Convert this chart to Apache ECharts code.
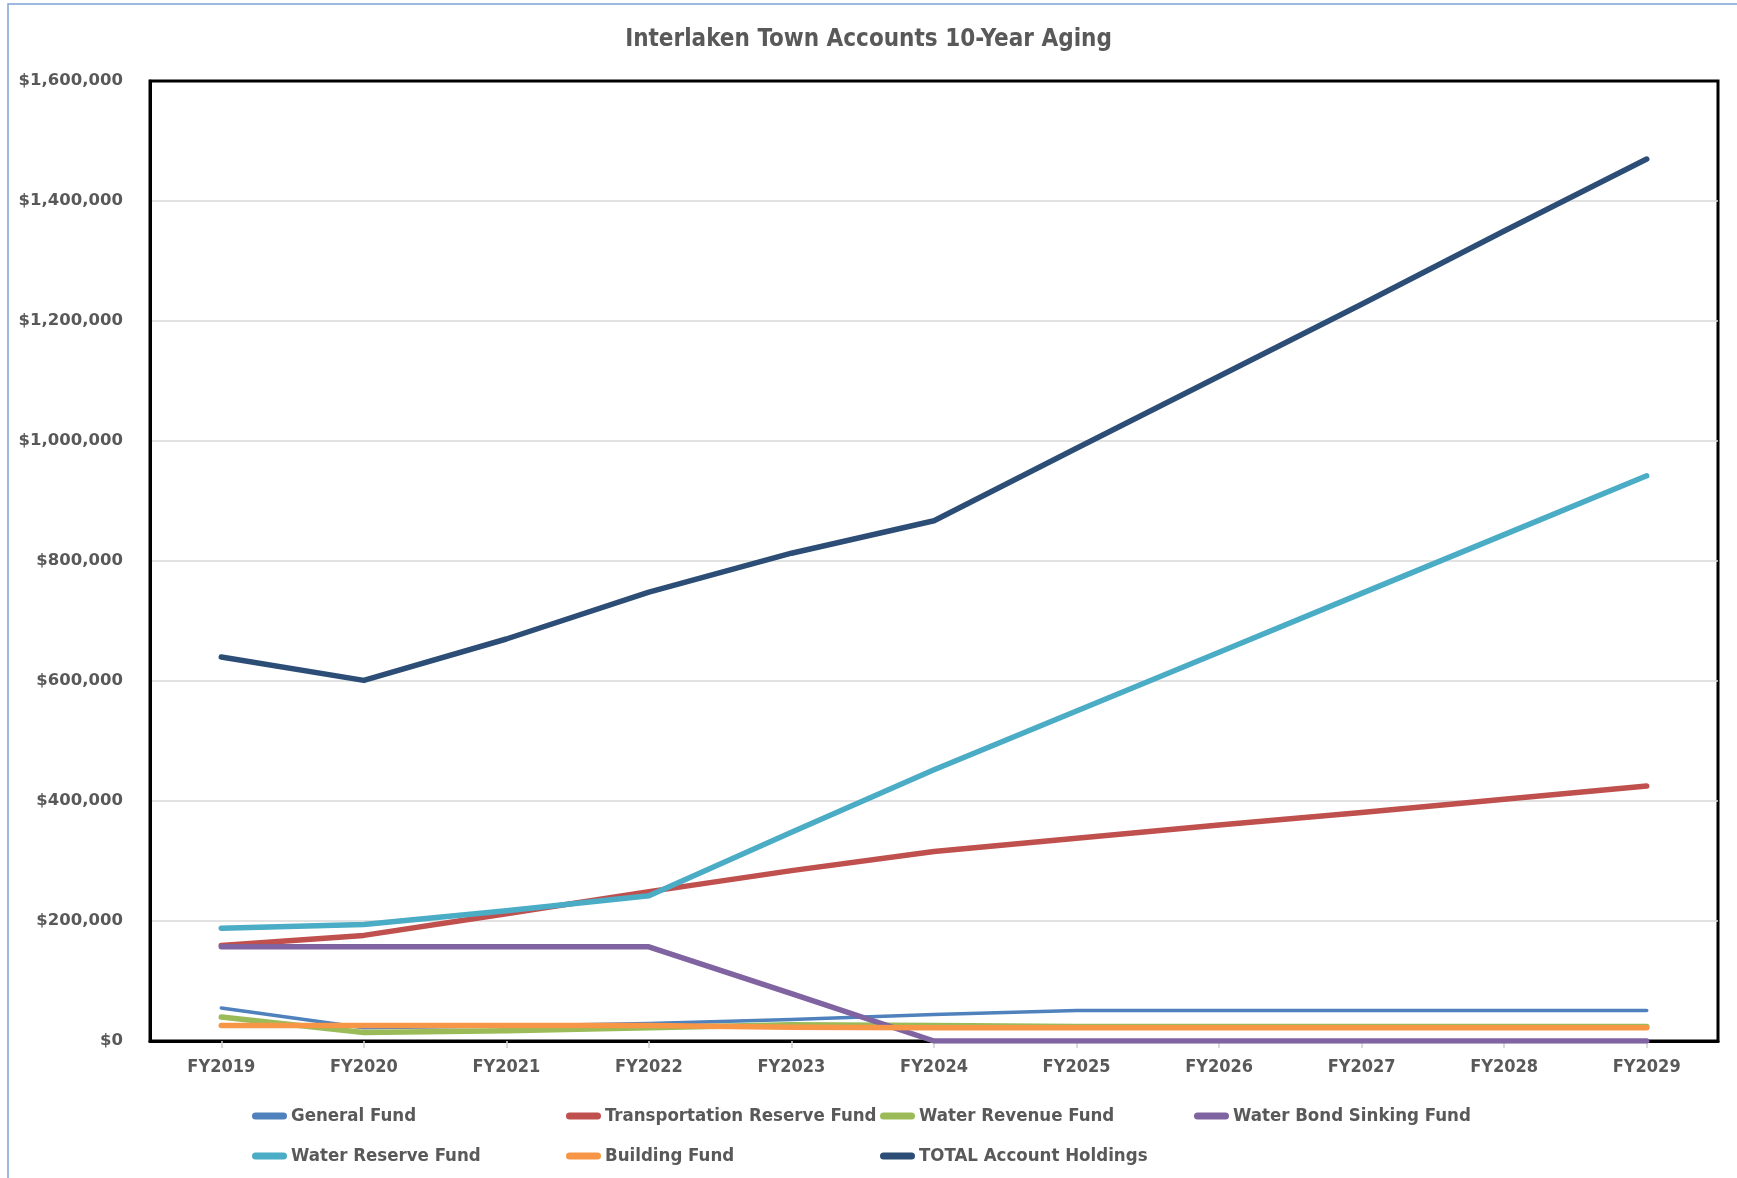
<!DOCTYPE html>
<html>
<head>
<meta charset="utf-8">
<script src="https://cdn.jsdelivr.net/npm/echarts@6/dist/echarts.min.js"></script>
<style>
  html, body { margin: 0; padding: 0; background: #fff; }
</style>
</head>
<body>
<div id="myEchart" style="width:1737px; height:1178px;"></div>
<script>
// categories / values
var years = ['FY2019', 'FY2020', 'FY2021', 'FY2022', 'FY2023', 'FY2024', 'FY2025', 'FY2026', 'FY2027', 'FY2028', 'FY2029'];
var yTicks = [0, 200000, 400000, 600000, 800000, 1000000, 1200000, 1400000, 1600000];

var generalFund = [55000, 22000, 25000, 29000, 36000, 44000, 51000, 51000, 51000, 51000, 51000];
var transportationReserve = [159000, 176000, 212000, 249000, 284000, 316000, 338000, 360000, 381000, 403000, 425000];
var waterRevenue = [40000, 14000, 17000, 22000, 27000, 26000, 24000, 24000, 24000, 24000, 24000];
var waterBondSinking = [157000, 157000, 157000, 157000, 79000, 0, 0, 0, 0, 0, 0];
var waterReserve = [188000, 194000, 217000, 242000, 348000, 452000, 550000, 648000, 746000, 844000, 942000];
var buildingFund = [26000, 26000, 26000, 26000, 23000, 22000, 22000, 22000, 22000, 22000, 22000];
var totalHoldings = [640000, 601000, 670000, 748000, 813000, 867000, 988000, 1108000, 1228000, 1350000, 1470000];

var seriesNames = ['General Fund', 'Transportation Reserve Fund', 'Water Revenue Fund', 'Water Bond Sinking Fund', 'Water Reserve Fund', 'Building Fund', 'TOTAL Account Holdings'];
var seriesData = [generalFund, transportationReserve, waterRevenue, waterBondSinking, waterReserve, buildingFund, totalHoldings];
var seriesColors = ['#4f81bd', '#c0504d', '#9bbb59', '#8064a2', '#4bacc6', '#f79646', '#2c4d75'];
var lineWidths = [3.5, 5.5, 5.5, 5.5, 5.5, 5.5, 5.5];

var narrow = "'Liberation Sans Narrow', 'DejaVu Sans Condensed', 'Liberation Sans', sans-serif";

var myChart = echarts.init(document.getElementById('myEchart'));

var series = seriesNames.map(function (name, i) {
  return {
    name: name,
    type: 'line',
    data: seriesData[i],
    symbol: 'none',
    color: seriesColors[i],
    lineStyle: { width: lineWidths[i], color: seriesColors[i], cap: 'round', join: 'round' },
    animation: false
  };
});

myChart.setOption({
  backgroundColor: '#fff',
  title: {
    text: 'Interlaken Town Accounts 10-Year Aging',
    left: 'center',
    top: 23,
    textStyle: { fontFamily: narrow, fontWeight: 'bold', fontSize: 24, color: '#595959' }
  },
  // thin blue outer frame of the chart object
  graphic: [{
    type: 'rect',
    shape: { x: 8, y: 4, width: 1760, height: 1200 },
    style: { fill: 'none', stroke: '#7ea3d6', lineWidth: 1.5 },
    silent: true
  }],
  legend: {
    data: seriesNames,
    left: 247,
    top: 1091,
    width: 1280,
    itemGap: 0,
    itemWidth: 39,
    itemHeight: 7,
    icon: 'path://M4,0 L36,0 A4,4 0 0 1 36,8 L4,8 A4,4 0 0 1 4,0 Z',
    textStyle: {
      fontFamily: narrow, fontWeight: 'bold', fontSize: 18.5, color: '#595959',
      width: 275, lineHeight: 40, padding: [0, 0, 0, -3]
    }
  },
  grid: {
    left: 150, right: 19, top: 81, bottom: 137,
    show: true, borderColor: '#000', borderWidth: 3, backgroundColor: '#fff'
  },
  xAxis: {
    type: 'category',
    data: years,
    boundaryGap: true,
    axisLine: { show: true, lineStyle: { color: '#000', width: 3 } },
    axisTick: { show: true, alignWithLabel: true, length: 7, lineStyle: { color: '#d0d0d0', width: 1.5 } },
    axisLabel: { margin: 17, fontFamily: narrow, fontWeight: 'bold', fontSize: 18, color: '#595959' },
    splitLine: { show: false }
  },
  yAxis: {
    type: 'value',
    min: yTicks[0],
    max: yTicks[yTicks.length - 1],
    interval: 200000,
    axisLine: { show: true, lineStyle: { color: '#000', width: 3 } },
    axisTick: { show: false },
    axisLabel: {
      margin: 27,
      fontFamily: "'DejaVu Sans', Verdana, sans-serif",
      fontWeight: 'bold',
      fontSize: 16.5,
      color: '#595959',
      formatter: function (v) { return '$' + v.toLocaleString('en-US'); }
    },
    splitLine: { show: true, showMinLine: false, showMaxLine: false, lineStyle: { color: '#d9d9d9', width: 1.5 } }
  },
  series: series
});
</script>
</body>
</html>
